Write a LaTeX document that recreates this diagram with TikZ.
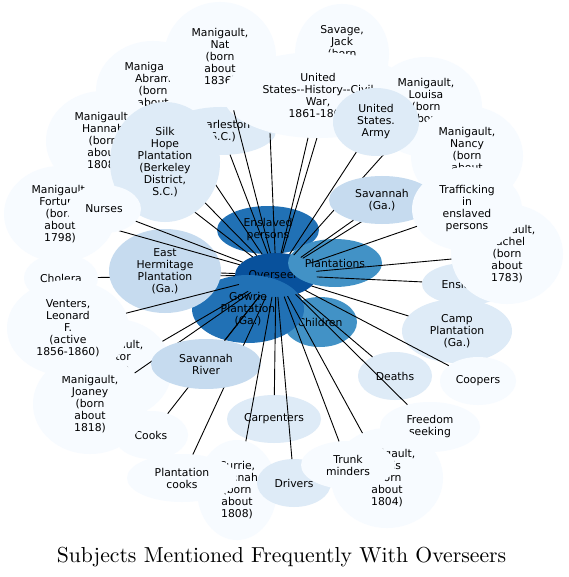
\documentclass[tikz,border=0pt]{standalone}
\usepackage{fontspec}
\usetikzlibrary{shapes.geometric}
\newfontfamily\topicfont{DejaVu Sans}
\newfontfamily\titlefont{lmroman10-regular}[Extension=.otf]
\definecolor{ovfill}{HTML}{08519C}
\definecolor{bluefill}{HTML}{2171B5}
\definecolor{midfill}{HTML}{4292C6}
\definecolor{lightfill}{HTML}{C6DBEF}
\definecolor{palefill}{HTML}{DEEBF7}
\definecolor{faintfill}{HTML}{F7FBFF}
\tikzset{
  topic/.style    ={ellipse, inner sep=0pt, outer sep=0pt, align=center,
                    font=\topicfont\fontsize{10.8}{12}\selectfont},
  ovbox/.style    ={topic, fill=ovfill},
  bluebox/.style  ={topic, fill=bluefill},
  midbox/.style   ={topic, fill=midfill},
  lightbox/.style ={topic, fill=lightfill},
  palebox/.style  ={topic, fill=palefill},
  faintbox/.style ={topic, fill=faintfill},
  sz/.style 2 args={minimum width=#1pt, minimum height=#2pt},
  link/.style     ={draw=black, line width=0.9pt},
}

\begin{document}
\begin{tikzpicture}[x=1pt, y=-1pt]
    \fill[white] (0,0) rectangle (568,577);
    \useasboundingbox (0,0) rectangle (568,577);

    \node[bluebox, sz={102}{48}] (ens) at (268,230) {Enslaved\\persons};
    \node[ovbox, sz={82}{44}] (ov) at (276,275) {Overseers};
    \node[midbox, sz={94}{48}] (pla) at (335,263) {Plantations};
    \node[midbox, sz={74}{50}] (chi) at (320,322) {Children};
    \node[bluebox, sz={112}{68}] (gow) at (248,309) {Gowrie\\Plantation\\(Ga.)};

    \node[faintbox, sz={114}{100}] (abr) at (153,91) {Maniga\phantom{ult,}\\Abram\\(born\\about\\\phantom{1800)}};
    \node[faintbox, sz={114}{100}] (han) at (103,141) {Manigault,\\Hannah\\(born\\about\\1808)};
    \node[faintbox, sz={112}{96}] (fort) at (60,214) {Manigault,\\Fortune\\(born\\about\\1798)};
    \node[faintbox, sz={112}{110}] (nat) at (220,57) {Manigault,\\Nat\\(born\\about\\1836)};
    \node[palebox, sz={110}{48}] (cha) at (221,131) {Charleston\\(S.C.)};
    \draw[link] (ov) -- (abr);
    \draw[link] (ov) -- (han);
    \node[palebox, sz={110}{120}] (sil) at (165,162) {Silk\\Hope\\Plantation\\(Berkeley\\District,\\S.C.)};

    \node[faintbox, sz={94}{100}] (sava) at (342,54) {Savage,\\Jack\\(born\\\phantom{about}\\\phantom{1800)}};
    \draw[link] (ov) -- (sava);
    \node[faintbox, sz={190}{86}] (civ) at (318,95) {United\\States--History--Civil\\War,\\1861-1865};
    \node[faintbox, sz={112}{100}] (lsa) at (426,107) {Manigault,\\Louisa\\(born\\about\\\phantom{1800)}};
    \draw[link] (ov) -- (lsa);
    \node[palebox, sz={86}{68}] (army) at (376,122) {United\\States.\\Army};
    \node[faintbox, sz={112}{100}] (nan) at (467,156) {Manigault,\\Nancy\\(born\\about\\\phantom{1800)}};
    \draw[link] (ov) -- (nan);
    \node[lightbox, sz={106}{48}] (sav) at (382,200) {Savannah\\(Ga.)};

    \node[palebox, sz={88}{42}] (ensl) at (466,284) {Enslaved};
    \node[faintbox, sz={112}{100}] (rac) at (507,254) {Manigault,\\Rachel\\(born\\about\\1783)};
    \node[faintbox, sz={110}{84}] (trf) at (467,209) {Trafficking\\in\\enslaved\\persons};
    \node[palebox, sz={110}{64}] (camp) at (457,331) {Camp\\Plantation\\(Ga.)};
    \node[faintbox, sz={76}{48}] (coop) at (478,381) {Coopers};
    \node[palebox, sz={74}{48}] (dea) at (395,376) {Deaths};
    \node[faintbox, sz={100}{50}] (fre) at (430,427) {Freedom\\seeking};
    \node[faintbox, sz={112}{100}] (lou) at (387,478) {Manigault,\\Louis\\(born\\about\\1804)};
    \node[faintbox, sz={80}{100}] (cur) at (237,490) {Currie,\\Hannah\\(born\\about\\1808)};
    \node[faintbox, sz={110}{48}] (pco) at (182,478) {Plantation\\cooks};
    \node[palebox, sz={74}{48}] (dri) at (294,483) {Drivers};
    \node[faintbox, sz={94}{48}] (tru) at (348,465) {Trunk\\minders};
    \node[palebox, sz={94}{48}] (car) at (274,419) {Carpenters};
    \node[faintbox, sz={74}{48}] (coo) at (151,435) {Cooks};
    \node[faintbox, sz={114}{100}] (vic) at (115,369) {Manigault,\\Victor\\(born\\\phantom{about}\\\phantom{1800)}};
    \node[faintbox, sz={114}{100}] (joa) at (90,404) {Manigault,\\Joaney\\(born\\about\\1818)};
    \node[faintbox, sz={74}{48}] (cho) at (61,278) {Cholera};
    \draw[link] (ov) -- (joa);
    \draw[link] (ov) -- (coo);
    \draw[link] (ov) -- (pco);
    \draw[link] (ov) -- (cho);
    \node[faintbox, sz={122}{96}] (ven) at (68,328) {Venters,\\Leonard\\F.\\(active\\1856-1860)};
    \node[lightbox, sz={110}{50}] (sr) at (206,364) {Savannah\\River};
    \node[lightbox, sz={112}{84}] (eh) at (165,271) {East\\Hermitage\\Plantation\\(Ga.)};
    \draw[link] (ov) -- (fort);
    \node[faintbox, sz={74}{48}] (nur) at (104,209) {Nurses};

    \coordinate (hid) at (270,133);
    \foreach \t in {sil, nat, cha, hid, civ, army, sav, trf, rac, ensl, camp, coop,
                    dea, fre, lou, tru, dri, car, cur, sr, vic, ven, nur, eh}
        \draw[link] (ov) -- (\t);

    \node[anchor=base, font=\titlefont\fontsize{21.7}{24}\selectfont] (title) at (281.5,562)
        {Subjects Mentioned Frequently With Overseers};
\end{tikzpicture}
\end{document}
